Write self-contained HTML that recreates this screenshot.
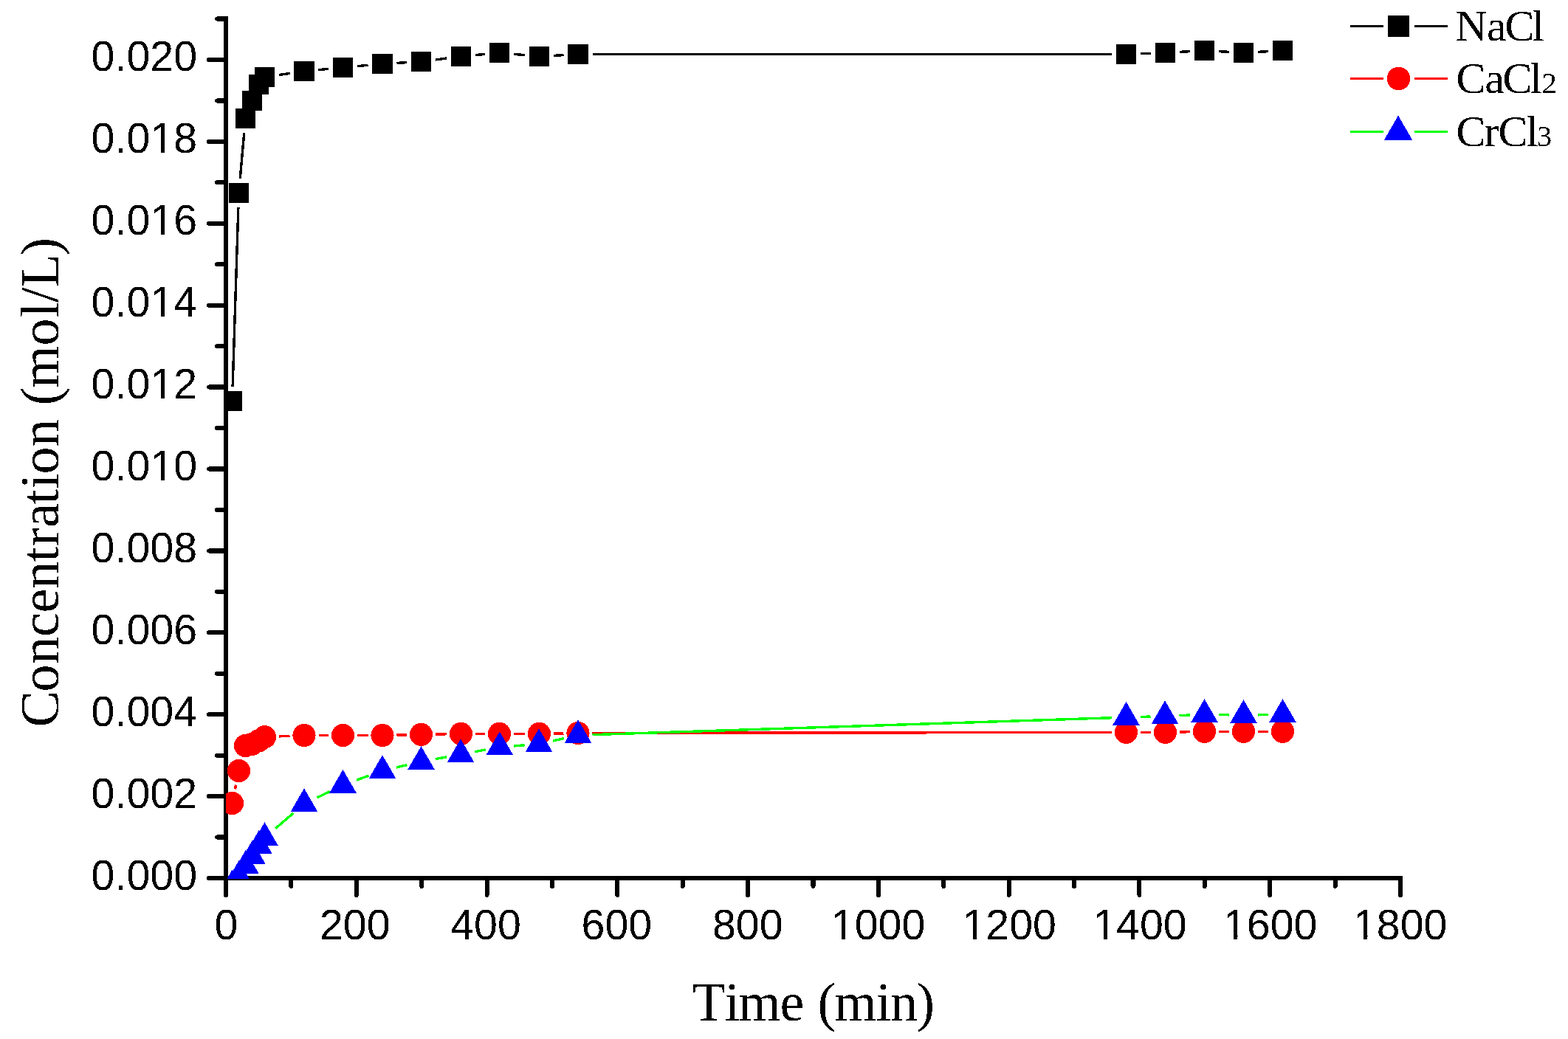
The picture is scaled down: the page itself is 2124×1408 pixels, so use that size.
<!DOCTYPE html>
<html lang="en"><head><meta charset="utf-8">
<style>html,body{margin:0;padding:0;background:#fff}svg{display:block}.tk{font-family:"Liberation Sans",sans-serif;font-size:57.3px;fill:#000}.ti{font-family:"Liberation Serif",serif;font-size:74px;fill:#000}.lg{font-family:"Liberation Serif",serif;font-size:60px;fill:#000}.sb{font-size:41px}</style></head><body>
<svg width="2124" height="1408" viewBox="0 0 2124 1408">
<rect width="2124" height="1408" fill="#fff"/>
<defs><clipPath id="plot"><rect x="306" y="0" width="1700" height="1191"/></clipPath><filter id="bin" filterUnits="userSpaceOnUse" x="0" y="0" width="2124" height="1408" color-interpolation-filters="sRGB"><feComponentTransfer><feFuncA type="discrete" tableValues="0 1"/></feComponentTransfer></filter></defs>
<g stroke="#000" stroke-width="6" fill="none" shape-rendering="crispEdges">
<path d="M306 22V1190M303 1190H1900"/>
</g>
<g stroke="#000" stroke-width="6" fill="none" stroke-linecap="round" filter="url(#bin)">
<path d="M283 1190H306M294 1134.55H306M283 1079.1H306M294 1023.65H306M283 968.2H306M294 912.75H306M283 857.3H306M294 801.85H306M283 746.4H306M294 690.95H306M283 635.5H306M294 580.05H306M283 524.6H306M294 469.15H306M283 413.7H306M294 358.25H306M283 302.8H306M294 247.35H306M283 191.9H306M294 136.45H306M283 81H306M294 25.55H306M306 1190V1213M394.39 1190V1201M482.78 1190V1213M571.17 1190V1201M659.56 1190V1213M747.94 1190V1201M836.33 1190V1213M924.72 1190V1201M1013.11 1190V1213M1101.5 1190V1201M1189.89 1190V1213M1278.28 1190V1201M1366.67 1190V1213M1455.06 1190V1201M1543.45 1190V1213M1631.84 1190V1201M1720.22 1190V1213M1808.61 1190V1201M1897 1190V1213"/>
</g>
<g filter="url(#bin)">
<g class="tk" text-anchor="end">
<text x="267" y="1205.6">0.000</text>
<text x="267" y="1094.6">0.002</text>
<text x="267" y="983.6">0.004</text>
<text x="267" y="872.6">0.006</text>
<text x="267" y="761.6">0.008</text>
<text x="267" y="650.6">0.010</text>
<text x="267" y="539.6">0.012</text>
<text x="267" y="428.6">0.014</text>
<text x="267" y="317.6">0.016</text>
<text x="267" y="206.6">0.018</text>
<text x="267" y="95.6">0.020</text>
</g>
<g class="tk" text-anchor="middle">
<text x="306.5" y="1273.2">0</text>
<text x="480.78" y="1273.2">200</text>
<text x="658.06" y="1273.2">400</text>
<text x="835.33" y="1273.2">600</text>
<text x="1012.81" y="1273.2">800</text>
<text x="1189.59" y="1273.2">1000</text>
<text x="1367.17" y="1273.2">1200</text>
<text x="1543.95" y="1273.2">1400</text>
<text x="1720.72" y="1273.2">1600</text>
<text x="1896.7" y="1273.2">1800</text>
</g>
<text class="ti" x="937.5 981.5 1000.05 1056.5 1076.5 1107.4 1129.95 1186.45 1206.05 1241.45" y="1383">Time (min)</text>
<text class="ti" transform="translate(79 1000) rotate(-90)" x="14.4 62.4 100 136.9 169.5 202.2 238.5 260 285 316.6 337.5 357.5 394.7 414.7 450.7 474 531.6 570 590 610.7 653.4" y="0">Concentration (mol/L)</text>
</g>
<path d="M208 203h10v4h-10zM208 314h10v4h-10zM208 425h10v4h-10zM208 536h10v4h-10zM208 647h10v4h-10zM223 203h9v4h-9zM223 314h9v4h-9zM223 425h9v4h-9zM223 536h9v4h-9zM223 647h9v4h-9zM1130 1269h10v4h-10zM1145 1269h10v4h-10zM1308 1269h10v4h-10zM1323 1269h10v4h-10zM1485 1269h10v4h-10zM1500 1269h9v4h-9zM1661 1269h10v4h-10zM1676 1269h10v4h-10zM1837 1269h10v4h-10zM1852 1269h10v4h-10z" fill="#fff" shape-rendering="crispEdges"/>
<g clip-path="url(#plot)" shape-rendering="crispEdges">
<path d="M315.12 524.01L322.88 280.99M325.23 242.08L330.77 179.92M377.79 101.62L392.71 99.38M431.41 94.65L445.09 93.35M483.92 89.69L498.58 88.31M537.47 85.39L551.03 84.61M589.84 80.99L605.16 79.01M643.91 74.63L657.09 73.37M695.92 73.3L711.08 74.7M749.97 75.39L763.53 74.61M802.5 73.5L1506 73.5M1544.99 72.76L1559.01 72.24M1597.97 70.4L1612.03 69.6M1650.97 69.6L1665.03 70.4M1703.97 70.4L1718.03 69.6" stroke="#000" stroke-width="3.4" fill="none"/>
<g fill="#000" shape-rendering="crispEdges">
<rect x="301" y="530" width="27" height="27"/>
<rect x="310" y="248" width="27" height="27"/>
<rect x="319" y="147" width="27" height="27"/>
<rect x="328" y="123" width="27" height="27"/>
<rect x="337" y="101" width="27" height="27"/>
<rect x="345" y="91" width="27" height="27"/>
<rect x="398" y="83" width="28" height="27"/>
<rect x="451" y="78" width="27" height="27"/>
<rect x="504" y="73" width="28" height="27"/>
<rect x="557" y="70" width="27" height="27"/>
<rect x="611" y="63" width="27" height="27"/>
<rect x="663" y="58" width="27" height="27"/>
<rect x="717" y="63" width="27" height="27"/>
<rect x="769" y="60" width="28" height="27"/>
<rect x="1512" y="60" width="27" height="27"/>
<rect x="1565" y="58" width="27" height="27"/>
<rect x="1618" y="55" width="27" height="27"/>
<rect x="1671" y="58" width="27" height="27"/>
<rect x="1724" y="55" width="27" height="27"/>
</g>
<path d="M318.41 1069.4L319.59 1063.6M377.98 997.9L392.52 997.3M431.5 996.5L445 996.5M484 996.5L498.5 996.5M537.5 996.09L551 995.81M590 995.04L605 994.76M644 994.4L657 994.4M696 994.4L711 994.4M750 994.07L763.5 993.83M802.5 993.47L1506 992.43M1545 992.4L1559 992.4M1598 992L1612 991.7M1651 991.3L1665 991.3M1704 991.3L1718 991.3" stroke="#f00" stroke-width="3.4" fill="none"/>
<g fill="#f00">
<circle cx="314.5" cy="1088.5" r="15.6"/>
<circle cx="323.5" cy="1044.5" r="15.6"/>
<circle cx="332.5" cy="1010.5" r="15.6"/>
<circle cx="341.5" cy="1008.3" r="15.6"/>
<circle cx="350.5" cy="1003.8" r="15.6"/>
<circle cx="358.5" cy="998.7" r="15.6"/>
<circle cx="412" cy="996.5" r="15.6"/>
<circle cx="464.5" cy="996.5" r="15.6"/>
<circle cx="518" cy="996.5" r="15.6"/>
<circle cx="570.5" cy="995.4" r="15.6"/>
<circle cx="624.5" cy="994.4" r="15.6"/>
<circle cx="676.5" cy="994.4" r="15.6"/>
<circle cx="730.5" cy="994.4" r="15.6"/>
<circle cx="783" cy="993.5" r="15.6"/>
<circle cx="1525.5" cy="992.4" r="15.6"/>
<circle cx="1578.5" cy="992.4" r="15.6"/>
<circle cx="1631.5" cy="991.3" r="15.6"/>
<circle cx="1684.5" cy="991.3" r="15.6"/>
<circle cx="1737.5" cy="991.3" r="15.6"/>
</g>
<path d="M373.29 1122.59L397.21 1102.01M429.57 1080.83L446.93 1072.47M482.8 1057.26L499.7 1051.04M537 1039.92L551.5 1036.58M589.67 1028.65L604.83 1025.85M643.17 1018.71L657.63 1015.99M696.24 1010.9L710.56 1009.8M749.02 1003.99L763.98 1000.61M802.49 995.66L1506.01 972.74M1544.99 971.47L1558.51 971.03M1597.48 969.6L1612.02 969M1651 968.57L1665 968.83M1704 968.83L1718 968.57" stroke="#0f0" stroke-width="3.4" fill="none"/>
<g fill="#00f">
<path d="M314.5 1178.7L332.7 1210.3H296.3Z"/>
<path d="M323.5 1166.2L341.7 1197.8H305.3Z"/>
<path d="M332.5 1152.4L350.7 1184H314.3Z"/>
<path d="M341.5 1139.3L359.7 1170.9H323.3Z"/>
<path d="M350.5 1125.4L368.7 1157H332.3Z"/>
<path d="M358.5 1114.2L376.7 1145.8H340.3Z"/>
<path d="M412 1068.2L430.2 1099.8H393.8Z"/>
<path d="M464.5 1042.9L482.7 1074.5H446.3Z"/>
<path d="M518 1023.2L536.2 1054.8H499.8Z"/>
<path d="M570.5 1011.1L588.7 1042.7H552.3Z"/>
<path d="M624 1001.2L642.2 1032.8H605.8Z"/>
<path d="M676.8 991.3L695 1022.9H658.6Z"/>
<path d="M730 987.2L748.2 1018.8H711.8Z"/>
<path d="M783 975.2L801.2 1006.8H764.8Z"/>
<path d="M1525.5 951L1543.7 982.6H1507.3Z"/>
<path d="M1578 949.3L1596.2 980.9H1559.8Z"/>
<path d="M1631.5 947.1L1649.7 978.7H1613.3Z"/>
<path d="M1684.5 948.1L1702.7 979.7H1666.3Z"/>
<path d="M1737.5 947.1L1755.7 978.7H1719.3Z"/>
</g>
</g>
<path d="M1829 35.5H1874M1916 35.5H1961" stroke="#000" stroke-width="3" fill="none" shape-rendering="crispEdges"/>
<path d="M1829 106.9H1874M1916 106.9H1961" stroke="#f00" stroke-width="3" fill="none" shape-rendering="crispEdges"/>
<path d="M1829 178.4H1874M1916 178.4H1961" stroke="#0f0" stroke-width="3" fill="none" shape-rendering="crispEdges"/>
<rect x="1880" y="21" width="29" height="29" fill="#000" shape-rendering="crispEdges"/>
<circle cx="1894.5" cy="106.5" r="15.8" fill="#f00" shape-rendering="crispEdges"/>
<path d="M1894 156.5L1913.3 190H1874.7Z" fill="#00f" shape-rendering="crispEdges"/>
<g filter="url(#bin)">
<text class="lg" x="1971.5 2013.9 2038.5 2075.5" y="55">NaCl</text>
<text class="lg" x="1972.5 2011.2 2035.5 2072.4" y="126">CaCl<tspan class="sb" x="2088.4">2</tspan></text>
<text class="lg" x="1972.5 2010.4 2029.4 2067.5" y="198">CrCl<tspan class="sb" x="2081.8">3</tspan></text>
</g>
</svg>
</body></html>
